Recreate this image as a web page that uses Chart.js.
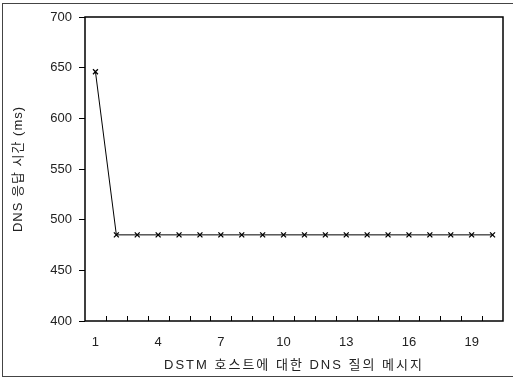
<!DOCTYPE html>
<html><head><meta charset="utf-8">
<script src="https://cdn.jsdelivr.net/npm/chart.js@4/dist/chart.umd.min.js"></script>
<style>html,body{margin:0;padding:0;background:#fff}#wrap{width:513px;height:379px}</style>
</head><body><div id="wrap"><canvas id="c" width="513" height="379"></canvas></div>
<script>
const categories = ['1','2','3','4','5','6','7','8','9','10','11','12','13','14','15','16','17','18','19','20'];
const responseTimes = [646,485,485,485,485,485,485,485,485,485,485,485,485,485,485,485,485,485,485,485];
const yTicks = [400,450,500,550,600,650,700];
const xTitle = 'DSTM 호스트에 대한 DNS 질의 메시지';
const yTitle = 'DNS 응답 시간 (ms)';

const FONT = "'Liberation Sans', 'Noto Sans CJK KR', sans-serif";

const framePlugin = {
  id: 'frame',
  beforeDraw(chart) {
    [['x', '2px'], ['y', '1px']].forEach(([id, ls]) => {
      const s = chart.scales[id];
      if (s && !s._lsPatched) {
        const orig = s.drawTitle.bind(s);
        s.drawTitle = function () {
          const c = this.ctx;
          const prev = c.letterSpacing;
          c.letterSpacing = ls;
          orig();
          c.letterSpacing = prev || '0px';
        };
        s._lsPatched = true;
      }
    });
  },
  afterDraw(chart) {
    const ctx = chart.ctx, a = chart.chartArea, xs = chart.scales.x;
    ctx.save();
    ctx.strokeStyle = '#444'; ctx.lineWidth = 1;
    ctx.strokeRect(2.5, 3.5, 513, 373);
    ctx.strokeStyle = '#000'; ctx.lineWidth = 1.5;
    ctx.strokeRect(a.left, a.top, a.right - a.left, a.bottom - a.top);
    ctx.lineWidth = 1;
    const n = categories.length;
    for (let i = 1; i < n; i++) {
      const x = Math.round((xs.getPixelForValue(i - 1) + xs.getPixelForValue(i)) / 2) + 0.5;
      ctx.beginPath(); ctx.moveTo(x, a.bottom); ctx.lineTo(x, a.bottom - 5); ctx.stroke();
    }
    ctx.restore();
  }
};

new Chart(document.getElementById('c'), {
  type: 'line',
  data: {
    labels: categories,
    datasets: [{
      data: responseTimes,
      borderColor: '#000',
      borderWidth: 1,
      pointStyle: 'crossRot',
      pointRadius: 3.5,
      pointBorderColor: '#000',
      pointBorderWidth: 1.3,
      tension: 0
    }]
  },
  options: {
    responsive: false,
    animation: false,
    devicePixelRatio: 1,
    layout: { padding: { top: 17, right: 10, left: 11, bottom: 0 } },
    plugins: { legend: { display: false }, tooltip: { enabled: false } },
    scales: {
      x: {
        offset: true,
        grid: { display: false, offset: true },
        border: { display: false },
        ticks: {
          autoSkip: false, maxRotation: 0, color: '#222', padding: 6,
          font: { family: FONT, size: 13 },
          callback: (v, i) => (i % 3 === 0 ? categories[i] : '')
        },
        title: { display: true, text: xTitle, color: '#222', font: { family: FONT, size: 13 }, padding: { top: 0, bottom: 6 } },
        afterFit(s) { s.height = 58; }
      },
      y: {
        min: 400, max: 700,
        afterBuildTicks(s) { s.ticks = yTicks.map(v => ({ value: v })); },
        grid: { drawOnChartArea: false, tickLength: 6, color: '#000', lineWidth: 1 },
        border: { display: false },
        ticks: { color: '#222', padding: 7, font: { family: FONT, size: 13 } },
        title: { display: true, text: yTitle, color: '#222', font: { family: FONT, size: 13 }, padding: { top: 0, bottom: 0 } },
        afterFit(s) { s.width = 74; }
      }
    }
  },
  plugins: [framePlugin]
});
</script></body></html>
